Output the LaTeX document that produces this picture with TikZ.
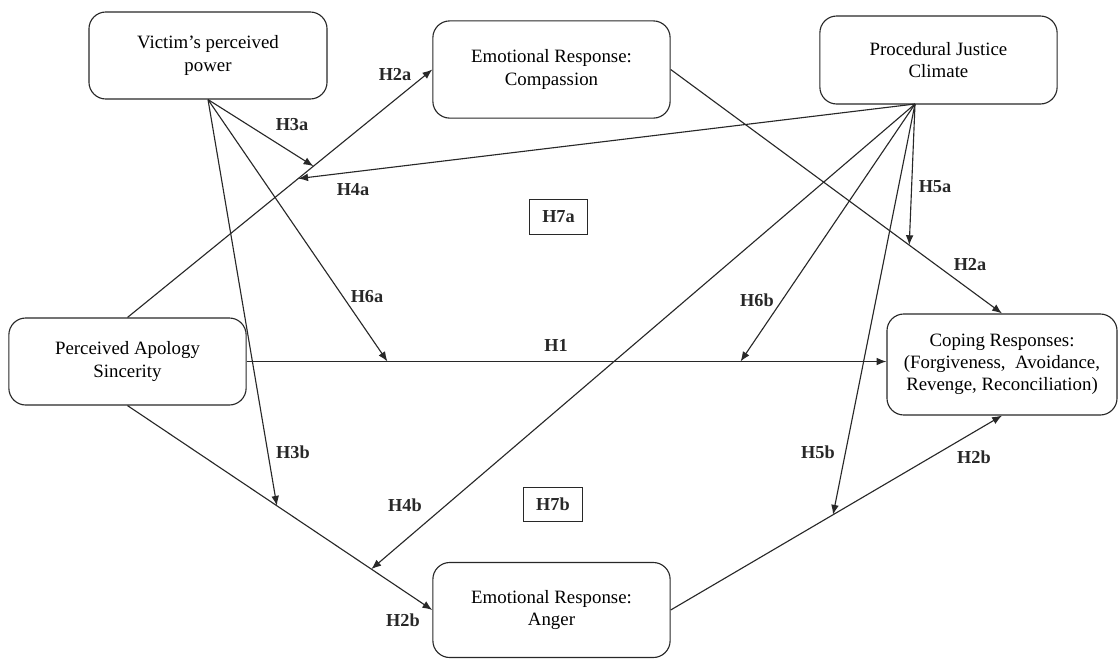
\documentclass[tikz,border=0pt]{standalone}
\usepackage{fontspec}
\setmainfont{Liberation Serif}
\usetikzlibrary{arrows.meta,calc}

\definecolor{ink}{RGB}{40,40,40}

\tikzset{
    box/.style={draw=ink, rounded corners=12pt, line width=0.8pt, align=center,
        inner sep=0pt, font=\fontsize{13.4}{15.8}\selectfont},
    hyp/.style={font=\bfseries\fontsize{13}{15}\selectfont, text=ink},
    hbox/.style={hyp, draw=ink, line width=0.8pt, minimum width=1.47cm, minimum height=0.86cm},
    link/.style={draw=ink, line width=0.8pt, -{Latex[length=7pt,width=5.5pt]}}
}

\begin{document}
\begin{tikzpicture}[x=0.025cm, y=-0.025cm]

\useasboundingbox (0,0) rectangle (1119,659);

% constructs
\node[box, minimum width=5.95cm, minimum height=2.175cm] (power) at (208,55.5) {Victim’s perceived\\power};
\node[box, minimum width=5.93cm, minimum height=2.43cm] (comp) at (551.5,69.5) {Emotional Response:\\Compassion};
\node[box, minimum width=5.93cm, minimum height=2.2cm] (pjc) at (938.5,60) {Procedural Justice\\Climate};
\node[box, minimum width=5.93cm, minimum height=2.175cm] (pas) at (127.5,361.5) {Perceived Apology\\Sincerity};
\node[box, minimum width=5.75cm, minimum height=2.525cm] (cope) at (1002,364.5) {Coping Responses:\\(Forgiveness,\ \ Avoidance,\\Revenge, Reconciliation)};
\node[box, minimum width=5.93cm, minimum height=2.375cm] (anger) at (551.5,610) {Emotional Response:\\Anger};

\coordinate (pjsrc) at (915,104);

% main paths
\draw[link] (pas.north) -- (comp.west);
\draw[link] (comp.east) -- (cope.north);
\draw[link] (pas.south) -- (anger.west);
\draw[link] (anger.east) -- (cope.south);
\draw[link] (pas.east) -- (pas.east -| cope.west);

% moderation by power
\draw[link] (power.south) -- ($(pas.north)!0.61!(comp.west)$);
\draw[link] (power.south) -- ($(pas.east)!0.22!(pas.east -| cope.west)$);
\draw[link] (power.south) -- ($(pas.south)!0.49!(anger.west)$);

% moderation by climate
\draw[link] (pjsrc) -- ($(pas.north)!0.56!(comp.west)$);
\draw[link] (pjsrc) -- ($(comp.east)!0.72!(cope.north)$);
\draw[link] (pjsrc) -- ($(pas.east)!0.772!(pas.east -| cope.west)$);
\draw[link] (pjsrc) -- ($(anger.east)!0.49!(cope.south)$);
\draw[link] (pjsrc) -- ($(pas.south)!0.80!(anger.west)$);

% hypothesis labels
\node[hyp] (h2a) at (395,75) {H2a};
\node[hyp] (h3a) at (292,125) {H3a};
\node[hyp] (h4a) at (353,190) {H4a};
\node[hyp] (h5a) at (935,187) {H5a};
\node[hyp] (h2ar) at (970,265) {H2a};
\node[hyp] (h6a) at (367,297) {H6a};
\node[hyp] (h6b) at (757,300) {H6b};
\node[hyp] (h1) at (556,345) {H1};
\node[hyp] (h3b) at (293,452) {H3b};
\node[hyp] (h5b) at (818,452) {H5b};
\node[hyp] (h2br) at (974,457) {H2b};
\node[hyp] (h4b) at (405,505) {H4b};
\node[hyp] (h2b) at (403,620) {H2b};

\node[hbox] (h7a) at (558.5,217) {H7a};
\node[hbox] (h7b) at (553,504.5) {H7b};

\end{tikzpicture}
\end{document}
